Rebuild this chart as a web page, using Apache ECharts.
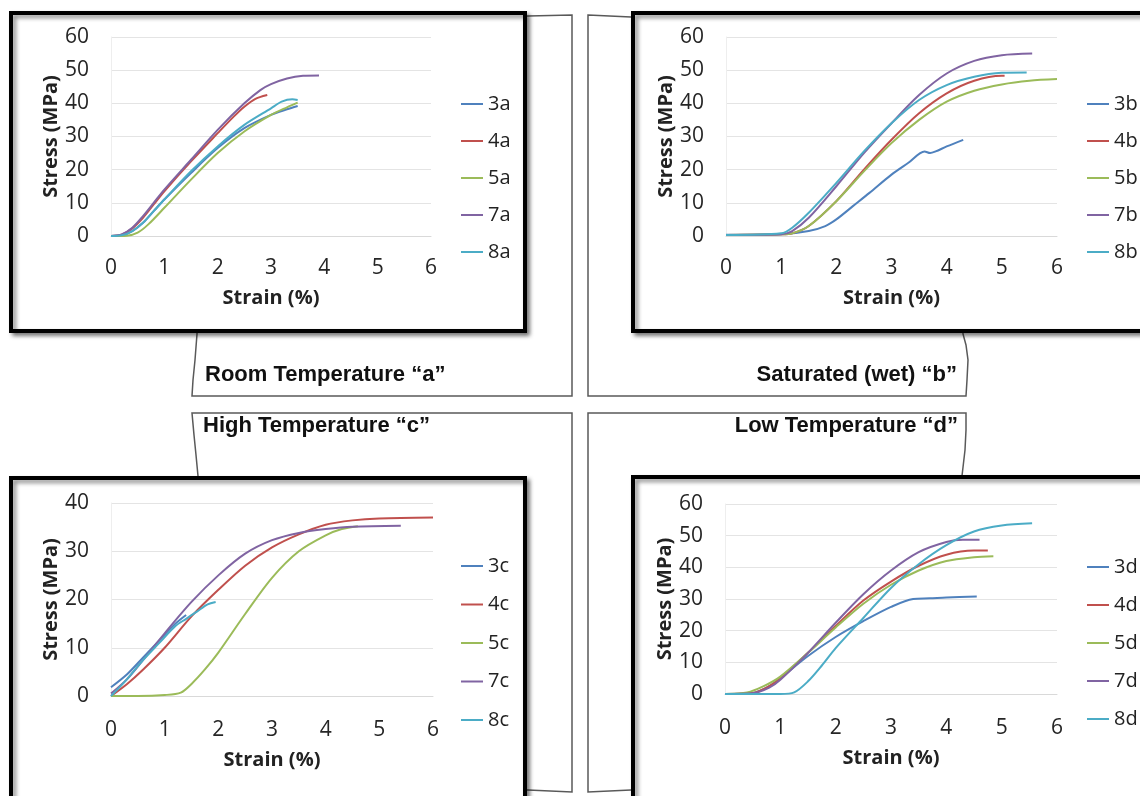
<!DOCTYPE html>
<html>
<head>
<meta charset="utf-8">
<script src="https://cdn.jsdelivr.net/npm/echarts@6.0.0/dist/echarts.min.js"></script>
<style>
  html, body { margin: 0; padding: 0; background: #fff; }
  #main { width: 1140px; height: 796px; }
</style>
</head>
<body>
<div id="main"></div>
<script>
// strain (%) / stress (MPa) pairs
// room temperature "a"
const s3a = [[0,0],[0.2,0.2],[0.4,1.5],[0.6,4],[0.8,7.5],[1,11],[1.5,19],[2,26.5],[2.5,32.5],[3,36.5],[3.3,38.2],[3.5,39.2]];
const s4a = [[0,0],[0.2,0.4],[0.4,2.3],[0.6,5.5],[0.8,9.5],[1,13.5],[1.5,22.5],[2,31],[2.3,36],[2.5,39],[2.7,41.3],[2.93,42.5]];
const s5a = [[0,0],[0.3,0.1],[0.5,1],[0.7,3.5],[1,8.5],[1.5,17],[2,25],[2.5,31.5],[3,36.5],[3.3,38.8],[3.5,40.2]];
const s7a = [[0,0],[0.2,0.5],[0.4,2.5],[0.6,6],[0.8,10],[1,14],[1.5,23],[2,32],[2.5,40],[2.8,44],[3,45.8],[3.3,47.5],[3.6,48.3],[3.9,48.4]];
const s8a = [[0,0],[0.2,0.2],[0.4,1.5],[0.6,4],[0.8,7.5],[1,11],[1.5,19.5],[2,27],[2.5,33.5],[3,38.5],[3.2,40.5],[3.4,41.2],[3.5,41]];
// saturated (wet) "b"
const s3b = [[0,0.4],[0.5,0.4],[1,0.5],[1.5,1.5],[1.8,3],[2,5],[2.3,9],[2.6,13],[3,18.5],[3.3,22],[3.6,25.5],[3.7,25],[3.8,25.5],[4,27],[4.3,29]];
const s4b = [[0,0.3],[1,0.5],[1.2,0.8],[1.5,3],[2,10.5],[2.5,20],[3,29],[3.5,37],[4,43],[4.5,46.8],[5,48.3],[5.05,48.3]];
const s5b = [[0,0.3],[1,0.5],[1.2,0.8],[1.5,3],[2,10.5],[2.5,19.5],[3,28],[3.5,35],[4,40.5],[4.5,43.8],[5,45.7],[5.5,46.8],[6,47.3]];
const s7b = [[0,0.3],[1,0.5],[1.2,1.5],[1.5,5.5],[2,15],[2.5,25],[3,34],[3.5,42.5],[4,49],[4.5,52.8],[5,54.5],[5.55,55]];
const s8b = [[0,0.3],[1,0.8],[1.2,2.5],[1.5,7],[2,16],[2.5,25.5],[3,34],[3.5,41],[4,45.5],[4.5,48],[5,49.2],[5.45,49.3]];
// high temperature "c"
const s3c = [[0,1.8],[0.3,4.5],[0.6,8],[0.9,11.5],[1.2,15],[1.4,16.8]];
const s4c = [[0,0],[0.3,2.5],[0.6,5.5],[1,10],[1.5,16.5],[2,22],[2.5,27],[3,30.8],[3.5,33.5],[4,35.5],[4.5,36.4],[5,36.8],[6,37]];
const s5c = [[0,0],[0.5,0],[1,0.2],[1.3,0.7],[1.5,2.5],[1.75,5.5],[2,9],[2.5,17],[3,24.5],[3.5,30],[4,33.3],[4.3,34.6],[4.6,35.2]];
const s7c = [[0,0.5],[0.3,3.5],[0.6,7.5],[1,13],[1.5,19.5],[2,25],[2.5,29.5],[3,32.3],[3.5,33.8],[4,34.6],[4.5,35.1],[5.4,35.3]];
const s8c = [[0,0],[0.3,3.5],[0.6,7.5],[0.9,11],[1.2,14.5],[1.4,16],[1.6,17.5],[1.8,19],[1.95,19.5]];
// low temperature "d"
const s3d = [[0,0],[0.5,0.3],[0.8,2.5],[1,5],[1.5,12],[2,18],[2.5,23],[3,27.5],[3.4,30],[3.7,30.2],[4,30.5],[4.55,30.8]];
const s4d = [[0,0],[0.5,0.3],[0.8,2.5],[1,5],[1.5,13],[2,21.5],[2.5,29.5],[3,35.5],[3.5,40.5],[4,44],[4.5,45.3],[4.75,45.3]];
const s5d = [[0,0],[0.4,0.5],[0.7,2.5],[1,5.5],[1.5,13],[2,21],[2.5,28.5],[3,34.5],[3.5,39],[4,42],[4.5,43.2],[4.85,43.5]];
const s7d = [[0,0],[0.5,0.2],[0.8,2],[1,4.5],[1.5,13],[2,22.5],[2.5,31.5],[3,39],[3.5,44.8],[4,48],[4.3,48.7],[4.6,48.7]];
const s8d = [[0,0],[0.5,0],[1,0],[1.25,0.5],[1.5,4],[1.75,9],[2,14.5],[2.5,24],[3,33.5],[3.5,41],[4,47],[4.5,51.3],[5,53.2],[5.55,53.9]];

const specimens = ['3', '4', '5', '7', '8'];
const colors = ['#4f81bd', '#c0504d', '#9bbb59', '#8064a2', '#4bacc6'];
const panelSeries = {
  a: [s3a, s4a, s5a, s7a, s8a],
  b: [s3b, s4b, s5b, s7b, s8b],
  c: [s3c, s4c, s5c, s7c, s8c],
  d: [s3d, s4d, s5d, s7d, s8d],
};
const yMax = { a: 60, b: 60, c: 40, d: 60 };
const panelTitles = ['Room Temperature \u201ca\u201d', 'Saturated (wet) \u201cb\u201d', 'High Temperature \u201cc\u201d', 'Low Temperature \u201cd\u201d'];

const FONT = '"Open Sans", sans-serif';
const panels = ['a', 'b', 'c', 'd'];
const grids = [
  { left: 111, top: 37, width: 320, height: 199 },
  { left: 726, top: 37, width: 331, height: 199 },
  { left: 111, top: 503, width: 322, height: 193 },
  { left: 725, top: 504, width: 332, height: 190 },
];
const legendPos = [
  { left: 456, top: 89, itemGap: 17 },
  { left: 1082, top: 89, itemGap: 17 },
  { left: 456, top: 551, itemGap: 18.5 },
  { left: 1082, top: 552, itemGap: 18 },
];
const yNameGap = [50, 46, 50, 46];
const xNameGap = [52, 52, 54, 54];
const xLabelMargin = [22, 22, 24, 24];

const xAxis = [], yAxis = [], series = [], legend = [];
panels.forEach((p, i) => {
  xAxis.push({
    gridIndex: i, type: 'value', min: 0, max: 6, interval: 1,
    name: 'Strain (%)', nameLocation: 'middle', nameGap: xNameGap[i],
    nameTextStyle: { fontFamily: FONT, fontWeight: 'bold', fontSize: 20, color: '#222' },
    axisLine: { show: true, lineStyle: { color: '#d9d9d9', width: 1 } },
    axisTick: { show: false },
    splitLine: { show: false },
    axisLabel: { fontFamily: FONT, fontSize: 21, color: '#262626', margin: xLabelMargin[i] },
  });
  yAxis.push({
    gridIndex: i, type: 'value', min: 0, max: yMax[p], interval: 10,
    name: 'Stress (MPa)', nameLocation: 'middle', nameGap: yNameGap[i], nameRotate: 90,
    nameTextStyle: { fontFamily: FONT, fontWeight: 'bold', fontSize: 20, color: '#222' },
    axisLine: { show: true, lineStyle: { color: '#eeeeee', width: 1 } },
    axisTick: { show: false },
    splitLine: { show: true, lineStyle: { color: '#e4e4e4', width: 1 } },
    axisLabel: { fontFamily: FONT, fontSize: 21, color: '#262626', margin: 22 },
  });
  const names = [];
  panelSeries[p].forEach((data, k) => {
    const name = specimens[k] + p;
    names.push(name);
    series.push({
      name, type: 'line', xAxisIndex: i, yAxisIndex: i, data,
      showSymbol: false, smooth: 0.3, color: colors[k],
      lineStyle: { width: 2, color: colors[k] },
      z: 3,
    });
  });
  legend.push({
    data: names, orient: 'vertical', left: legendPos[i].left, top: legendPos[i].top,
    itemGap: legendPos[i].itemGap, icon: 'rect', itemWidth: 22, itemHeight: 2,
    textStyle: { fontFamily: FONT, fontSize: 20, color: '#222', lineHeight: 20 },
    selectedMode: false,
  });
});

// callout shapes behind each chart box, then the boxes themselves
const shapeStyle = { fill: '#fff', stroke: '#595959', lineWidth: 1.5 };
const boxStyle = {
  fill: '#fff', stroke: '#000', lineWidth: 4,
  shadowBlur: 4, shadowOffsetX: 3, shadowOffsetY: 3, shadowColor: 'rgba(0,0,0,0.45)',
};
const shapes = [
  [[197,20],[528,16],[572,15],[572,396],[192,396],[193,380],[195,360],[197,334]],
  [[588,15],[631,17],[963,20],[963,334],[966,345],[968,360],[967,380],[966,396],[588,396]],
  [[192,413],[572,413],[572,792],[528,790],[198,790],[198,476],[196,455],[194,435]],
  [[588,413],[966,413],[966,430],[965,450],[962,476],[962,790],[631,790],[588,792]],
];
const boxes = [
  { x: 11, y: 13, width: 514, height: 318 },
  { x: 633, y: 13, width: 530, height: 318 },
  { x: 11, y: 478, width: 514, height: 340 },
  { x: 633, y: 477, width: 530, height: 340 },
];
const titleFont = 'bold 22px "Liberation Sans", Arial, sans-serif';
const titlePos = [
  { x: 205, y: 375, align: 'left' },
  { x: 957, y: 375, align: 'right' },
  { x: 203, y: 426, align: 'left' },
  { x: 958, y: 426, align: 'right' },
];
const graphic = [];
shapes.forEach(pts => graphic.push({ type: 'polygon', z: -20, shape: { points: pts }, style: shapeStyle }));
boxes.forEach(b => graphic.push({ type: 'rect', z: -10, shape: b, style: boxStyle }));
titlePos.forEach((t, i) => graphic.push({
  type: 'text', z: -5, x: t.x, y: t.y,
  style: { text: panelTitles[i], font: titleFont, fill: '#111', align: t.align, verticalAlign: 'middle' },
}));

const chart = echarts.init(document.getElementById('main'));
chart.setOption({
  backgroundColor: '#fff',
  animation: false,
  grid: grids,
  xAxis, yAxis, series, legend, graphic,
});
</script>
</body>
</html>
